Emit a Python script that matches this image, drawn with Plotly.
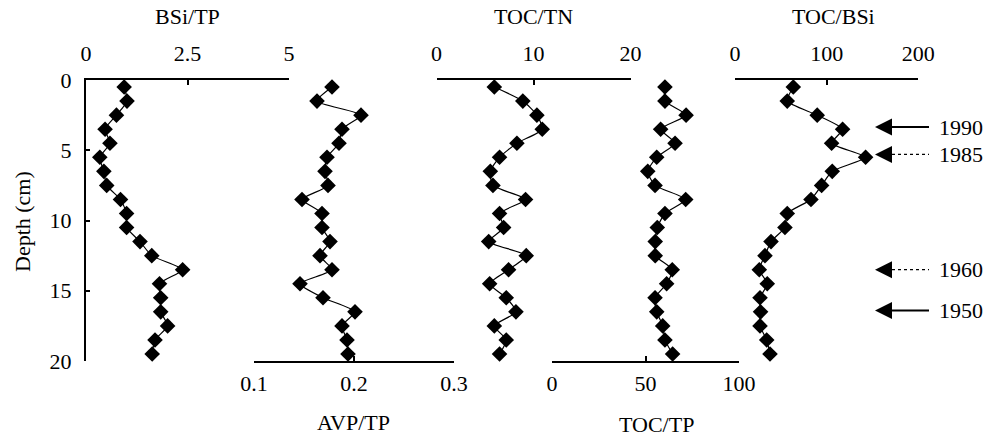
import plotly.graph_objects as go

# ---------------- data ----------------
depth = [0.5, 1.5, 2.5, 3.5, 4.5, 5.5, 6.5, 7.5, 8.5, 9.5,
         10.5, 11.5, 12.5, 13.5, 14.5, 15.5, 16.5, 17.5, 18.5, 19.5]
bsi_tp = [0.94, 1.01, 0.75, 0.47, 0.59, 0.34, 0.44, 0.51, 0.85, 1.00,
          1.00, 1.33, 1.62, 2.38, 1.81, 1.84, 1.84, 2.01, 1.70, 1.63]
avp_tp = [0.178, 0.163, 0.207, 0.188, 0.185, 0.173, 0.171, 0.174, 0.148, 0.168,
          0.168, 0.176, 0.166, 0.178, 0.146, 0.169, 0.201, 0.188, 0.193, 0.194]
toc_tn = [5.96, 8.9, 10.35, 10.9, 8.29, 6.5, 5.55, 5.82, 9.18, 6.5,
          6.92, 5.38, 9.25, 7.43, 5.48, 7.19, 8.19, 5.96, 7.19, 6.5]
toc_tp = [60.4, 60.4, 71.7, 58.1, 65.8, 56.0, 51.2, 55.1, 71.5, 60.4,
          56.3, 55.2, 55.2, 64.3, 61.3, 55.1, 56.0, 59.2, 60.4, 64.5]
toc_bsi = [63.6, 57.0, 89.7, 117.4, 105.4, 142.5, 106.1, 94.5, 82.9, 57.0,
           54.5, 39.3, 32.7, 26.5, 35.2, 27.3, 27.9, 27.3, 34.6, 38.2]

depth_ticks = [0, 5, 10, 15, 20]
year_labels = ["1990", "1985", "1960", "1950"]
year_depths = [3.35, 5.3, 13.5, 16.4]
year_dotted = [False, True, True, False]

panels = [
    # (name, values, range, tickvals, ticktext, side)
    ("BSi/TP", bsi_tp, [0, 5], [0, 2.5, 5], ["0", "2.5", "5"], "top"),
    ("AVP/TP", avp_tp, [0.1, 0.3], [0.1, 0.2, 0.3], ["0.1", "0.2", "0.3"], "bottom"),
    ("TOC/TN", toc_tn, [0, 20], [0, 10, 20], ["0", "10", "20"], "top"),
    ("TOC/TP", toc_tp, [0, 100], [0, 50, 100], ["0", "50", "100"], "bottom"),
    ("TOC/BSi", toc_bsi, [0, 200], [0, 100, 200], ["0", "100", "200"], "top"),
]

# ---------------- layout geometry (pixels in the final screenshot) ----------------
W, H = 991, 437
FONT = "Liberation Serif, Times New Roman, serif"
FS = 22
x_px = [(86, 289), (254, 454), (436.5, 630.5), (552, 739), (735, 918.3)]
title_px = [(187, 17), (353, 422), (533, 17), (656, 424), (833, 17)]
y_top_px, y_bot_px = 80, 361


def px(x):
    return x / W


def py(y):
    return 1 - y / H


tfont = dict(family=FONT, size=FS, color="black")

fig = go.Figure()
layout = dict(
    template="none",
    width=W, height=H,
    margin=dict(l=0, r=0, t=0, b=0),
    paper_bgcolor="white", plot_bgcolor="rgba(0,0,0,0)",
    showlegend=False,
    font=tfont,
    yaxis=dict(
        domain=[py(y_bot_px), py(y_top_px)],
        range=[20, 0], anchor="x",
        showline=True, linecolor="black", linewidth=2,
        ticks="inside", ticklen=4, tickwidth=2, tickcolor="black",
        tickvals=depth_ticks, ticktext=[str(v) for v in depth_ticks],
        tickfont=tfont,
        showgrid=False, zeroline=False, automargin=False,
        ticklabelstandoff=8,
    ),
)

annotations = []
shapes = []
for i, (name, vals, rng, tv, tt, side) in enumerate(panels):
    ax_id = "x" if i == 0 else f"x{i + 1}"
    key = "xaxis" if i == 0 else f"xaxis{i + 1}"
    fig.add_trace(go.Scatter(
        x=vals, y=depth, xaxis=ax_id, yaxis="y",
        mode="lines+markers",
        line=dict(color="black", width=1.2, shape="spline", smoothing=0.6),
        marker=dict(symbol="diamond", size=12, color="black"),
        cliponaxis=False, hoverinfo="skip",
    ))
    layout[key] = dict(
        domain=[px(x_px[i][0]), px(x_px[i][1])],
        range=rng, anchor="y", side=side,
        showline=True, linecolor="black", linewidth=2,
        ticks="inside", ticklen=5, tickwidth=2, tickcolor="black",
        tickvals=tv, ticktext=tt, tickfont=tfont,
        showgrid=False, zeroline=False, automargin=False,
        ticklabelstandoff=8 if side == "top" else 2,
    )
    annotations.append(dict(
        text=name, xref="paper", yref="paper",
        x=px(title_px[i][0]), y=py(title_px[i][1]),
        xanchor="center", yanchor="middle", showarrow=False,
        font=tfont,
    ))

annotations.append(dict(
    text="Depth (cm)", xref="paper", yref="paper",
    x=px(22), y=py(222), textangle=-90,
    xanchor="center", yanchor="middle", showarrow=False,
    font=tfont,
))

# year arrows
for lab, d, dotted in zip(year_labels, year_depths, year_dotted):
    shapes.append(dict(
        type="line", xref="paper", yref="y",
        x0=px(886), x1=px(929), y0=d, y1=d,
        line=dict(color="black", width=1.3 if dotted else 2,
                  dash="dot" if dotted else "solid"),
    ))
    annotations.append(dict(
        text="", xref="paper", yref="y", x=px(875), y=d,
        ax=14, ay=0, axref="pixel", ayref="pixel",
        showarrow=True, arrowhead=2, arrowsize=1.7, arrowwidth=2,
        arrowcolor="black",
    ))
    annotations.append(dict(
        text=lab, xref="paper", yref="y", x=px(937), y=d,
        xanchor="left", yanchor="middle", showarrow=False,
        font=tfont,
    ))

layout["annotations"] = annotations
layout["shapes"] = shapes
fig.update_layout(**layout)
fig.write_html("out.html", config={"displayModeBar": False},
               post_script="document.body.style.margin='0';")
